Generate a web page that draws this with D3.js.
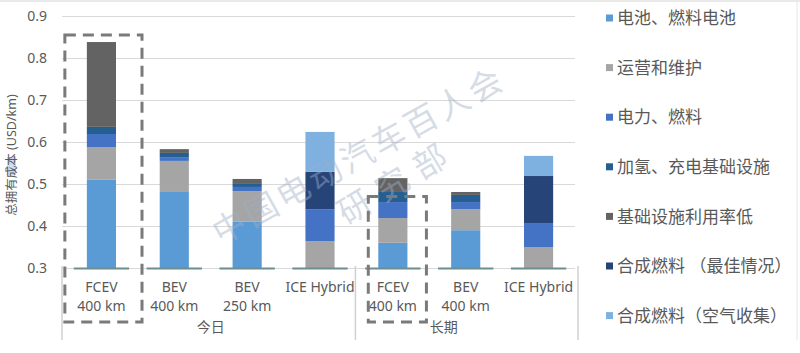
<!DOCTYPE html>
<html>
<head>
<meta charset="utf-8">
<script src="https://cdn.jsdelivr.net/npm/d3@7"></script>
<style>
  body { margin: 0; background: #fff; }
  text { font-family: "Noto Sans", "Noto Sans CJK SC", sans-serif; fill: #595959; }
</style>
</head>
<body>
<svg id="chart" width="800" height="353"></svg>
<script>
// categories, two label lines each
var categories = ["FCEV|400 km", "BEV|400 km", "BEV|250 km", "ICE Hybrid", "FCEV |400 km", "BEV |400 km", "ICE Hybrid "];
var groups = [
  { label: "今日", from: 0, to: 4 },
  { label: "长期", from: 4, to: 7 }
];
var seriesKeys = ["电池、燃料电池", "运营和维护", "电力、燃料", "加氢、充电基础设施", "基础设施利用率低", "合成燃料 （最佳情况）", "合成燃料（空气收集）"];
var seriesColors = ["#5b9bd5", "#a5a5a5", "#4472c4", "#255e91", "#636363", "#264478", "#7eb1e0"];

// segment sizes (USD/km) per category, in series order
var battery   = [0.510, 0.481, 0.410, 0.000, 0.360, 0.390, 0.000];
var operation = [0.078, 0.074, 0.073, 0.364, 0.059, 0.050, 0.350];
var energy    = [0.031, 0.009, 0.010, 0.076, 0.038, 0.017, 0.057];
var infra     = [0.017, 0.010, 0.009, 0.000, 0.024, 0.017, 0.000];
var underUse  = [0.202, 0.009, 0.010, 0.000, 0.033, 0.007, 0.000];
var synBest   = [0.000, 0.000, 0.000, 0.089, 0.000, 0.000, 0.112];
var synAir    = [0.000, 0.000, 0.000, 0.095, 0.000, 0.000, 0.048];

var yTicks = [0.3, 0.4, 0.5, 0.6, 0.7, 0.8, 0.9];
var boxedCats = [0, 4]; // dashed highlight boxes

var seriesValues = [battery, operation, energy, infra, underUse, synBest, synAir];
var table = categories.map(function(c, i) {
  var row = { cat: c };
  seriesKeys.forEach(function(k, j) { row[k] = seriesValues[j][i]; });
  return row;
});

var svg = d3.select("#chart");

var x = d3.scaleBand().domain(categories).range([65, 575]).paddingInner(0.6).paddingOuter(0.3);
var y = d3.scaleLinear().domain([0.3, 0.9]).range([268, 16]).clamp(true);
var color = d3.scaleOrdinal().domain(seriesKeys).range(seriesColors);

// frame lines of the screenshot
svg.append("line").attr("x1", 0).attr("x2", 800).attr("y1", 1).attr("y2", 1).attr("stroke", "#d4d4d4");
svg.append("line").attr("x1", 797).attr("x2", 797).attr("y1", 0).attr("y2", 340).attr("stroke", "#e6e6e6");

// grid
var grid = d3.axisLeft(y).tickValues(yTicks).tickSize(-(575 - 62)).tickFormat("");
svg.append("g").attr("transform", "translate(62,0)").call(grid)
  .call(function(g) {
    g.select(".domain").remove();
    g.selectAll(".tick line").attr("stroke", "#d9d9d9");
  });

// y tick labels
var yAxis = d3.axisLeft(y).tickValues(yTicks).tickSize(0).tickPadding(15).tickFormat(d3.format(".1f"));
svg.append("g").attr("transform", "translate(62,0)").call(yAxis)
  .call(function(g) {
    g.select(".domain").remove();
    g.selectAll("text").attr("font-size", 14).style("fill", "#595959")
      .attr("font-family", "'Noto Sans', sans-serif");
  });

// y title (with the highlighted "成本" of the screenshot)
svg.append("rect").attr("x", 7).attr("y", 157).attr("width", 9).attr("height", 18).attr("fill", "#cde0f2");
svg.append("text")
  .attr("transform", "translate(16,155) rotate(-90)")
  .attr("text-anchor", "middle")
  .attr("font-size", 12.5)
  .text("总拥有成本 (USD/km)");

// bars
var stacked = d3.stack().keys(seriesKeys)(table);
svg.append("g").selectAll("g").data(stacked).join("g")
  .attr("fill", function(d) { return color(d.key); })
  .selectAll("rect").data(function(d) { return d; }).join("rect")
  .attr("x", function(d) { return x(d.data.cat); })
  .attr("width", x.bandwidth())
  .attr("y", function(d) { return y(d[1]); })
  .attr("height", function(d) { return y(d[0]) - y(d[1]); });

// axis segments under each category
svg.append("g").selectAll("line").data(categories).join("line")
  .attr("x1", function(d) { return x(d) + x.bandwidth() / 2 - x.step() * 0.38; })
  .attr("x2", function(d) { return x(d) + x.bandwidth() / 2 + x.step() * 0.38; })
  .attr("y1", 268.5).attr("y2", 268.5)
  .attr("stroke", "#6b8f8f").attr("stroke-width", 2);

// group separators
var sepX = [62, 65 + x.step() * 4 - 1, 578];
svg.append("g").selectAll("line").data(sepX).join("line")
  .attr("x1", function(d) { return d; }).attr("x2", function(d) { return d; })
  .attr("y1", 266).attr("y2", 340)
  .attr("stroke", "#d0d0d0").attr("stroke-width", 1.5);

// category labels
var catG = svg.append("g").selectAll("text").data(categories).join("text")
  .attr("text-anchor", "middle")
  .attr("font-size", 14)
  .attr("x", function(d) { return x(d) + x.bandwidth() / 2; })
  .attr("y", 292);
catG.selectAll("tspan").data(function(d) { return d.trim().split("|"); }).join("tspan")
  .attr("x", function() { var p = d3.select(this.parentNode).datum(); return x(p) + x.bandwidth() / 2; })
  .attr("dy", function(d, i) { return i === 0 ? 0 : 19; })
  .text(function(d) { return d.trim(); });

// group labels
svg.append("g").selectAll("text").data(groups).join("text")
  .attr("text-anchor", "middle")
  .attr("font-size", 14)
  .attr("x", function(d, i) {
    var a = x(categories[d.from]), b = x(categories[d.to - 1]) + x.bandwidth();
    return (a + b) / 2 + (i === 0 ? 0 : -22);
  })
  .attr("y", 332)
  .text(function(d) { return d.label; });

// watermark, over the bars
var wm = svg.append("g").style("pointer-events", "none");
wm.append("text")
  .attr("transform", "translate(230,227) rotate(-29)")
  .attr("x", -17).attr("dy", "0.35em")
  .attr("font-size", 33).attr("letter-spacing", 3.5)
  .style("fill", "rgba(160,175,200,0.45)")
  .text("中国电动汽车百人会");
wm.append("text")
  .attr("transform", "translate(355,207) rotate(-31)")
  .attr("x", -17).attr("dy", "0.35em")
  .attr("font-size", 33).attr("letter-spacing", 11)
  .style("fill", "rgba(160,175,200,0.45)")
  .text("研究部");

// dashed highlight boxes
svg.append("g").selectAll("rect").data(boxedCats).join("rect")
  .attr("x", function(i) { return x(categories[i]) - (i === 0 ? 22 : 10); })
  .attr("width", function(i) { return x.bandwidth() + (i === 0 ? 48 : 29); })
  .attr("y", function(i) { return i === 0 ? y(0.855) : y(0.47); })
  .attr("height", function(i) { return 322 - (i === 0 ? y(0.855) : y(0.47)); })
  .attr("fill", "none")
  .attr("stroke", "#7a7a7a").attr("stroke-width", 3)
  .attr("stroke-dasharray", "11,7");

// legend
var legend = svg.append("g").attr("transform", "translate(606,18)")
  .selectAll("g").data(seriesKeys).join("g")
  .attr("transform", function(d, i) { return "translate(0," + (i * 49.6) + ")"; });
legend.append("rect").attr("x", 0).attr("y", -3.5).attr("width", 7).attr("height", 7)
  .attr("fill", function(d) { return color(d); });
legend.append("text").attr("x", 11).attr("dy", "0.36em")
  .attr("font-size", 17)
  .text(function(d) { return d; });
</script>
</body>
</html>
